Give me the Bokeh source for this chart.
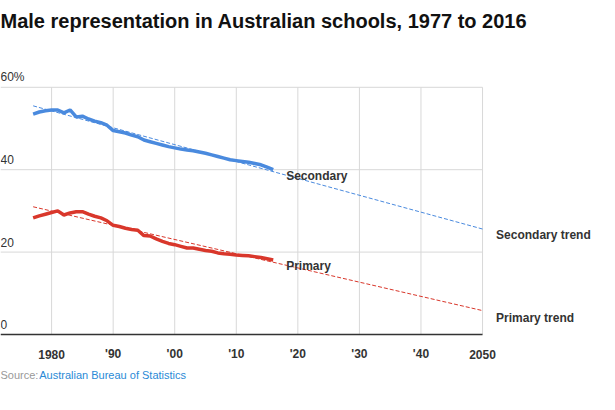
from bokeh.plotting import figure
from bokeh.models import Range1d, Label
from bokeh.embed import file_html
from bokeh.resources import INLINE

years = list(range(1977, 2017))
secondary = [53.5, 54, 54.3, 54.5, 54.5, 53.8, 54.5, 52.8, 53, 52.3, 51.8, 51.4, 50.8, 49.5, 49.2, 48.9, 48.4, 48,
             47.2, 46.8, 46.4, 46, 45.6, 45.3, 45, 44.8, 44.6, 44.3, 44, 43.6, 43.2, 42.8, 42.4, 42.2, 42, 41.8,
             41.5, 41.2, 40.6, 40]
primary = [28.3, 28.8, 29.2, 29.6, 30, 29, 29.5, 29.8, 29.8, 29.2, 28.7, 28.3, 27.6, 26.5, 26.2, 25.8, 25.5, 25.3,
           24, 23.9, 23.2, 22.6, 22.1, 21.8, 21.4, 21, 21, 20.7, 20.4, 20.2, 19.8, 19.6, 19.5, 19.3, 19.2, 19.1,
           18.9, 18.7, 18.4, 18.1]
trend_years = [1977, 2050]
secondary_trend = [55.5, 25.6]
primary_trend = [31, 5.8]
x_ticks = [1980, 1990, 2000, 2010, 2020, 2030, 2040, 2050]
x_labels = ["1980", "'90", "'00", "'10", "'20", "'30", "'40", "2050"]
y_ticks = [0, 20, 40, 60]
y_labels = ["0", "20", "40", "60%"]

X0, X1 = 1971.7, 2069.0
Y0, Y1 = -14.08, 81.07
FONT = "Liberation Sans"
BLUE = "#4a8ade"
RED = "#d9372b"

p = figure(width=599, height=392, output_backend="svg", toolbar_location=None,
           x_range=Range1d(X0, X1), y_range=Range1d(Y0, Y1),
           min_border_left=0, min_border_right=0, min_border_top=0, min_border_bottom=0)
p.outline_line_color = None
p.axis.visible = False
p.grid.visible = False

# grid
p.segment(x0=[X0] * 3, x1=[2050] * 3, y0=y_ticks[1:], y1=y_ticks[1:], line_color="#d8d8d8", line_width=1)
p.segment(x0=x_ticks, x1=x_ticks, y0=[0] * len(x_ticks), y1=[60] * len(x_ticks), line_color="#d8d8d8", line_width=1)
p.segment(x0=[X0], x1=[2050], y0=[0], y1=[0], line_color="#333333", line_width=1.5)

for t, l in zip(y_ticks, y_labels):
    p.add_layout(Label(x=X0, y=t + 2.4, text=l, text_font=FONT, text_font_size="12px",
                       text_color="#333333", text_baseline="middle"))
for t, l in zip(x_ticks, x_labels):
    p.add_layout(Label(x=t, y=-4.85, text=l, text_font=FONT, text_font_size="12px", text_font_style="bold",
                       text_color="#333333", text_baseline="middle", text_align="center"))

p.line(trend_years, secondary_trend, line_color=BLUE, line_width=1, line_dash="4 2")
p.line(trend_years, primary_trend, line_color=RED, line_width=1, line_dash="4 2")
p.line(years, secondary, line_color=BLUE, line_width=3.5)
p.line(years, primary, line_color=RED, line_width=3.5)

for x, y, t in [(2018.1, 38.5, "Secondary"), (2018.1, 16.6, "Primary"),
                (2052.2, 24.1, "Secondary trend"), (2052.2, 3.9, "Primary trend")]:
    p.add_layout(Label(x=x, y=y, text=t, text_font=FONT, text_font_size="12px", text_font_style="bold",
                       text_color="#333333", text_baseline="middle"))

p.add_layout(Label(x=X0, y=76.2, text="Male representation in Australian schools, 1977 to 2016",
                   text_font=FONT, text_font_size="20px", text_font_style="bold",
                   text_color="#111111", text_baseline="middle"))
p.add_layout(Label(x=X0, y=-9.95, text="Source:", text_font=FONT, text_font_size="11px",
                   text_color="#999999", text_baseline="middle"))
p.add_layout(Label(x=X0 + 6.3, y=-9.95, text="Australian Bureau of Statistics", text_font=FONT,
                   text_font_size="11px", text_color="#2a8ad6", text_baseline="middle"))

open("out.html", "w").write(file_html(p, INLINE))
